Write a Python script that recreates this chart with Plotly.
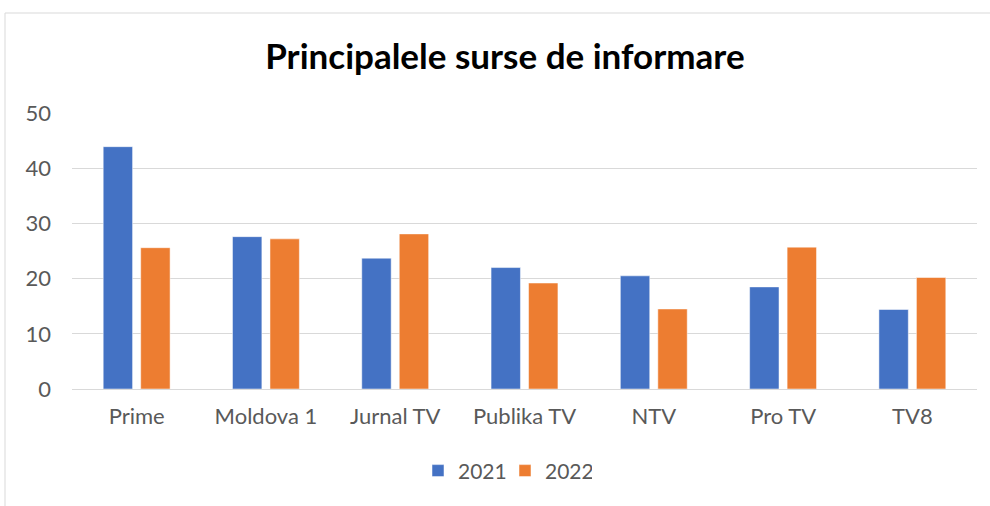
import plotly.graph_objects as go

categories = ["Prime", "Moldova 1", "Jurnal TV", "Publika TV", "NTV", "Pro TV", "TV8"]
values_2021 = [43.9, 27.6, 23.7, 22.0, 20.5, 18.5, 14.4]
values_2022 = [25.6, 27.2, 28.1, 19.2, 14.5, 25.7, 20.2]
y_ticks = [0, 10, 20, 30, 40, 50]

FONT = "Lato"
fig = go.Figure()
fig.add_trace(go.Bar(x=categories, y=values_2021, name="2021",
                     marker=dict(color="#4472C4", line=dict(color="white", width=0.5))))
fig.add_trace(go.Bar(x=categories, y=values_2022, name="2022",
                     marker=dict(color="#ED7D31", line=dict(color="white", width=0.5))))

fig.update_layout(
    width=990, height=506,
    margin=dict(l=72, r=13, t=113, b=117),
    paper_bgcolor="white", plot_bgcolor="white",
    barmode="group", bargap=0.42, bargroupgap=0.216,
    title=dict(text="<b>Principalele surse de informare</b>", x=0.51, xanchor="center",
               y=1 - 57/506, yanchor="middle",
               font=dict(family=FONT, size=35, color="#000000")),
    font=dict(family=FONT, size=22, color="#595959"),
    xaxis=dict(showgrid=False, showline=False, ticks="", ticklabelstandoff=12,
               tickfont=dict(size=22, color="#595959")),
    yaxis=dict(range=[0, 50], tickvals=y_ticks, showgrid=True, gridcolor="#d9d9d9",
               gridwidth=1, zeroline=True, zerolinecolor="#d9d9d9", zerolinewidth=1,
               showline=False, ticks="", ticklabelstandoff=20,
               tickfont=dict(size=22, color="#595959")),
    legend=dict(orientation="h", x=(505 - 72) / 905, xanchor="center", y=-0.297, yanchor="middle",
                font=dict(size=21, color="#595959"), itemwidth=30, entrywidth=42,
                traceorder="normal"),
    shapes=[dict(type="rect", xref="paper", yref="paper",
                 x0=(5 - 72) / 905, x1=(995 - 72) / 905,
                 y0=(389 - 510) / 276, y1=(389 - 13) / 276,
                 line=dict(color="#d9d9d9", width=1), fillcolor="rgba(0,0,0,0)", layer="below")],
)

fig.write_html("out.html", config={"displayModeBar": False},
               post_script="document.body.style.margin='0';document.body.style.overflow='hidden';")
